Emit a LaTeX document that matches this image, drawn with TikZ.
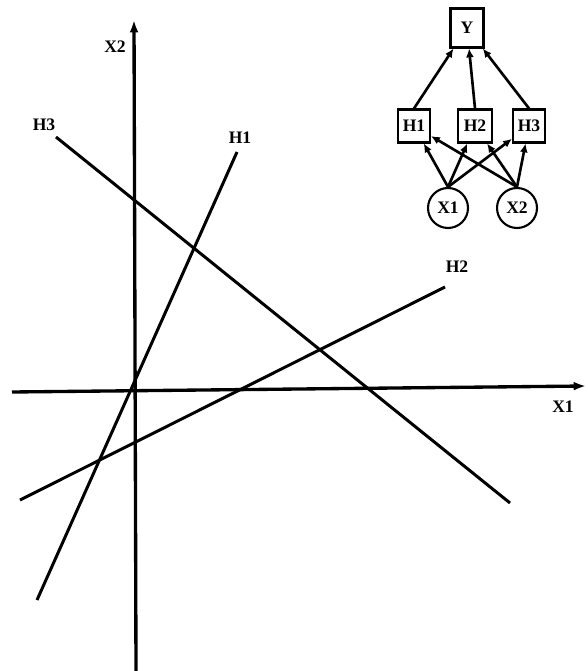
\documentclass[tikz,border=0pt]{standalone}
\usepackage{fontspec}
\setmainfont{Liberation Serif}
\usetikzlibrary{arrows.meta}

\begin{document}
\begin{tikzpicture}[x=0.02cm,y=-0.02cm,font=\bfseries\fontsize{10}{11}\selectfont,
  axisline/.style={line width=1.9pt,-{Latex[length=7pt,width=5pt]}},
  hline/.style={line width=1.7pt},
  unitbox/.style={draw,line width=1.2pt,minimum width=0.64cm,minimum height=0.66cm,inner sep=1pt},
  inputnode/.style={draw,circle,line width=1.2pt,minimum size=0.8cm,inner sep=0pt},
  link/.style={line width=1.5pt,-{Latex[length=5pt,width=4.5pt]}}]
\useasboundingbox (0,0) rectangle (587,671);

% axes
\draw[axisline] (136,671) -- (134,20);
\draw[axisline] (12,392) -- (586,386);
\node (lx2) at (115,47) {X2};
\node (lx1) at (563,407) {X1};

% hyperplanes
\draw[hline] (56,137) -- (510,503);
\draw[hline] (237,152) -- (37,600);
\draw[hline] (445,287) -- (20,500);
\node (lh3) at (44,125) {H3};
\node (lh1) at (240,138) {H1};
\node (lh2) at (457,267) {H2};

% network
\node[unitbox,minimum width=0.66cm,minimum height=0.78cm] (y) at (467,28) {Y};
\node[unitbox] (h1) at (414,126) {H1};
\node[unitbox,minimum width=0.68cm] (h2) at (475,126) {H2};
\node[unitbox] (h3) at (529,126) {H3};
\node[inputnode] (x1) at (448,208) {X1};
\node[inputnode] (x2) at (517,208) {X2};

\foreach \h in {h1,h2,h3} {
  \draw[link] (x1.north) -- (\h);
  \draw[link] (x2.north) -- (\h);
  \draw[link] (\h.north) -- (y);
}

\end{tikzpicture}
\end{document}
